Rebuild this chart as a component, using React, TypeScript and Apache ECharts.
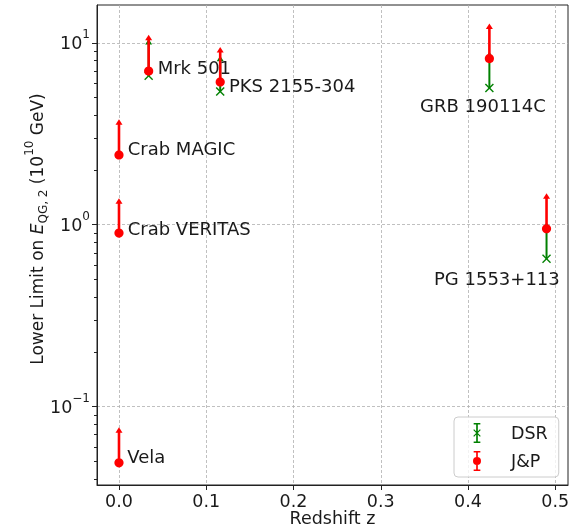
import React, { useEffect, useRef } from 'react';
import * as echarts from 'echarts';

// ---- data ----
const sources = ['Vela', 'Crab VERITAS', 'Crab MAGIC', 'Mrk 501', 'PKS 2155-304', 'GRB 190114C', 'PG 1553+113'];
const redshift = [0, 0, 0, 0.034, 0.116, 0.4245, 0.49];
// J&P lower limits and the top of their upward arrows
const jpLimit = [0.049, 0.9, 2.42, 7.0, 6.1, 8.2, 0.95];
const jpUpper = [0.077, 1.4, 3.8, 11.1, 9.5, 12.8, 1.49];
// DSR lower limits (only for extragalactic sources) and arrow tops
const dsrLimit = [null, null, null, 6.6, 5.4, 5.65, 0.65];
const dsrUpper = [null, null, null, 10.5, 8.5, 8.95, 1.03];
// annotation anchors (left edge, vertical middle)
const labelX = [0.0095, 0.01, 0.01, 0.0443, 0.126, 0.345, 0.361];
const labelY = [0.053, 0.959, 2.61, 7.36, 5.8, 4.55, 0.503];
// ticks
const xTicks = [0, 0.1, 0.2, 0.3, 0.4, 0.5];
const yTicks = [0.1, 1, 10];
const yMinorTicks = [0.04, 0.05, 0.06, 0.07, 0.08, 0.09, 0.2, 0.3, 0.4, 0.5, 0.6, 0.7, 0.8, 0.9, 2, 3, 4, 5, 6, 7, 8, 9];

const FONT = 'DejaVu Sans';
const TEXT = '#1a1a1a';
const RED = '#ff0000';
const GREEN = '#008000';

const jpIcon = 'path://M2,0H10V1.8H7V22.2H10V24H2V22.2H5V1.8H2Z M6,7.2A4.8,4.8 0 1,1 6,16.8A4.8,4.8 0 1,1 6,7.2Z';
const dsrIcon = 'path://M2,0H10V1.8H7V22.2H10V24H2V22.2H5V1.8H2Z M2.5,7.5L10.5,15.5L9.5,16.5L1.5,8.5Z M9.5,7.5L10.5,8.5L2.5,16.5L1.5,15.5Z';

function errRenderer(color: string, lineWidth: number, marker: 'dot' | 'x') {
  return (params: any, api: any) => {
    const base = api.coord([api.value(0), api.value(1)]);
    const top = api.coord([api.value(0), api.value(2)]);
    const children: any[] = [
      { type: 'line', shape: { x1: base[0], y1: base[1], x2: top[0], y2: top[1] + 3 }, style: { stroke: color, lineWidth } },
      {
        type: 'polygon',
        shape: { points: [[top[0], top[1]], [top[0] - 3.5, top[1] + 5.5], [top[0] + 3.5, top[1] + 5.5]] },
        style: { fill: color },
      },
    ];
    if (marker === 'dot') {
      children.push({ type: 'circle', shape: { cx: base[0], cy: base[1], r: 4.6 }, style: { fill: color } });
    } else {
      const s = 4;
      children.push({ type: 'line', shape: { x1: base[0] - s, y1: base[1] - s, x2: base[0] + s, y2: base[1] + s }, style: { stroke: color, lineWidth: 1.4 } });
      children.push({ type: 'line', shape: { x1: base[0] - s, y1: base[1] + s, x2: base[0] + s, y2: base[1] - s }, style: { stroke: color, lineWidth: 1.4 } });
    }
    return { type: 'group', children };
  };
}

export default function App() {
  const ref = useRef<HTMLDivElement>(null);
  useEffect(() => {
    const chart = echarts.init(ref.current!, null, { renderer: 'svg' });
    const jpData = redshift.map((z, i) => [z, jpLimit[i], jpUpper[i]]);
    const dsrData = redshift
      .map((z, i) => (dsrLimit[i] == null ? null : [z, dsrLimit[i], dsrUpper[i]]))
      .filter((d) => d != null);
    const labelData = labelX.map((x, i) => [x, labelY[i]]);

    const option: any = {
      animation: false,
      grid: {
        left: 97, top: 5, right: 12, bottom: 47,
        show: true, borderColor: '#222', borderWidth: 1, backgroundColor: 'transparent',
        containLabel: false, outerBoundsMode: 'none',
      },
      xAxis: {
        type: 'value',
        min: -0.0252,
        max: 0.5146,
        axisLine: { show: true, onZero: false, lineStyle: { color: '#222', width: 1 } },
        axisTick: { show: true, length: 5, customValues: xTicks, lineStyle: { color: '#222' } },
        axisLabel: {
          customValues: xTicks,
          formatter: (v: number) => v.toFixed(1),
          fontSize: 17.5,
          fontFamily: FONT,
          color: TEXT,
          margin: 7,
        },
        splitLine: { show: true, lineStyle: { color: '#b0b0b0', type: [3, 2], width: 0.8 } },
        name: 'Redshift z',
        nameLocation: 'middle',
        nameGap: 24,
        nameMoveOverlap: false,
        nameTextStyle: { fontSize: 17.5, fontFamily: FONT, color: TEXT },
      },
      yAxis: [
        {
          type: 'log',
          logBase: 10,
          min: 0.037,
          max: 16.17,
          axisLine: { show: true, onZero: false, lineStyle: { color: '#222', width: 1 } },
          axisTick: { show: true, length: 5, customValues: yTicks, lineStyle: { color: '#222' } },
          axisLabel: {
            customValues: yTicks,
            margin: 7,
            formatter: (v: number) => {
              const e = Math.round(Math.log10(v));
              const s = e < 0 ? '\u2212' + -e : String(e);
              return '{b|10}{s|' + s + '}';
            },
            rich: {
              b: { fontSize: 17.5, fontFamily: FONT, color: TEXT, lineHeight: 30 },
              s: { fontSize: 12, fontFamily: FONT, color: TEXT, verticalAlign: 'top', lineHeight: 12 },
            },
          },
          splitLine: { show: true, lineStyle: { color: '#b0b0b0', type: [3, 2], width: 0.8 } },
        },
        {
          type: 'log',
          logBase: 10,
          min: 0.037,
          max: 16.17,
          position: 'left',
          axisLine: { show: false, onZero: false },
          axisLabel: { show: false },
          splitLine: { show: false },
          axisTick: { show: true, length: 3, customValues: yMinorTicks, lineStyle: { color: '#222' } },
        },
      ],
      legend: {
        orient: 'vertical',
        left: 454,
        top: 417,
        padding: [6, 11, 6, 19],
        itemWidth: 10,
        itemHeight: 20,
        itemGap: 8,
        align: 'left',
        backgroundColor: 'rgba(255,255,255,0.8)',
        borderColor: '#cccccc',
        borderWidth: 1,
        borderRadius: 4,
        data: [
          { name: 'DSR', icon: dsrIcon },
          { name: 'J&P', icon: jpIcon },
        ],
        formatter: (name: string) => '{p| }{t|' + name + '}',
        textStyle: {
          fontSize: 17.5,
          fontFamily: FONT,
          color: TEXT,
          rich: {
            p: { width: 24, fontSize: 17.5, fontFamily: FONT },
            t: { fontSize: 17.5, fontFamily: FONT, color: TEXT },
          },
        },
      },
      graphic: [
        {
          type: 'text',
          x: 37,
          y: 229,
          rotation: Math.PI / 2,
          style: {
            text: '{n|Lower Limit on }{i|E}{sub|QG, 2}{n| (10}{sup|10}{n| GeV)}',
            align: 'center',
            verticalAlign: 'middle',
            rich: {
              n: { fontSize: 17, fontFamily: FONT, fill: TEXT, lineHeight: 28 },
              i: { fontSize: 17, fontFamily: FONT, fill: TEXT, fontStyle: 'italic', lineHeight: 28 },
              sub: { fontSize: 12, fontFamily: FONT, fill: TEXT, verticalAlign: 'bottom', height: 16, lineHeight: 16 },
              sup: { fontSize: 12, fontFamily: FONT, fill: TEXT, verticalAlign: 'top', lineHeight: 12 },
            },
          },
        },
      ],
      series: [
        {
          name: 'DSR',
          type: 'custom',
          coordinateSystem: 'cartesian2d',
          yAxisIndex: 0,
          itemStyle: { color: GREEN },
          encode: { x: 0, y: 1 },
          data: dsrData,
          renderItem: errRenderer(GREEN, 2, 'x'),
        },
        {
          name: 'J&P',
          type: 'custom',
          coordinateSystem: 'cartesian2d',
          yAxisIndex: 0,
          itemStyle: { color: RED },
          encode: { x: 0, y: 1 },
          data: jpData,
          renderItem: errRenderer(RED, 2.6, 'dot'),
        },
        {
          name: 'labels',
          type: 'custom',
          coordinateSystem: 'cartesian2d',
          yAxisIndex: 0,
          encode: { x: 0, y: 1 },
          data: labelData,
          renderItem: (params: any, api: any) => {
            const p = api.coord([api.value(0), api.value(1)]);
            return {
              type: 'text',
              x: p[0],
              y: p[1],
              style: {
                text: sources[params.dataIndex],
                fontSize: 18,
                fontFamily: FONT,
                fill: TEXT,
                align: 'left',
                verticalAlign: 'middle',
              },
            };
          },
        },
      ],
    };
    chart.setOption(option);
    return () => chart.dispose();
  }, []);
  return <div ref={ref} style={{ position: 'fixed', left: 0, top: 0, width: 580, height: 532 }} />;
}
